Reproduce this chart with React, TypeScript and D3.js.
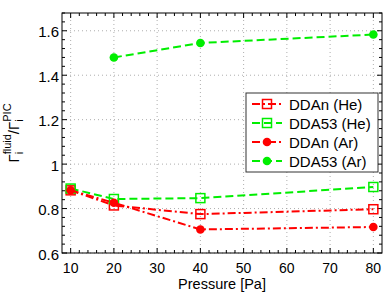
import React, { useEffect, useRef } from 'react';
import * as d3 from 'd3';

const pressures = [10, 20, 40, 80];
const ddanHe = [0.882, 0.814, 0.775, 0.797];
const dda53He = [0.89, 0.843, 0.847, 0.897];
const ddanAr = [0.882, 0.826, 0.706, 0.717];
const dda53ArP = [20, 40, 80];
const dda53Ar = [1.48, 1.545, 1.583];

const xTicks = [10, 20, 30, 40, 50, 60, 70, 80];
const yTicks = [0.6, 0.8, 1, 1.2, 1.4, 1.6];
const legendLabels = ['DDAn (He)', 'DDA53 (He)', 'DDAn (Ar)', 'DDA53 (Ar)'];

const FONT = '"Liberation Sans", Arial, Helvetica, sans-serif';

const App = () => {
  const svgRef = useRef<SVGSVGElement>(null);

  useEffect(() => {
    const svgWidth = 390;
    const svgHeight = 294;
    const m = { top: 13, right: 8, bottom: 41, left: 62 };

    const svg = d3.select(svgRef.current)
      .attr('width', svgWidth)
      .attr('height', svgHeight)
      .style('font-family', FONT);
    svg.selectAll('*').remove();

    const x = d3.scaleLinear().domain([8, 82]).range([m.left, svgWidth - m.right]);
    const y = d3.scaleLinear().domain([0.6, 1.68]).range([svgHeight - m.bottom, m.top]);
    const [x0, x1] = x.range();
    const [y0, y1] = y.range();

    svg.append('rect').attr('width', svgWidth).attr('height', svgHeight).attr('fill', '#fff');

    // grid
    const grid = svg.append('g').attr('stroke', '#999').attr('stroke-width', 0.8)
      .attr('stroke-dasharray', '1,3');
    xTicks.forEach(t => grid.append('line').attr('x1', x(t)).attr('x2', x(t)).attr('y1', y0).attr('y2', y1));
    yTicks.forEach(t => grid.append('line').attr('x1', x0).attr('x2', x1).attr('y1', y(t)).attr('y2', y(t)));

    // ticks (inward, all sides)
    const ticks = svg.append('g').attr('stroke', '#000').attr('stroke-width', 1);
    d3.range(10, 81, 2).forEach(t => {
      const len = t % 10 === 0 ? 5 : 3;
      ticks.append('line').attr('x1', x(t)).attr('x2', x(t)).attr('y1', y0).attr('y2', y0 - len);
      ticks.append('line').attr('x1', x(t)).attr('x2', x(t)).attr('y1', y1).attr('y2', y1 + len);
    });
    d3.range(0, 28).forEach(i => {
      const t = 0.6 + i * 0.04;
      const len = i % 5 === 0 ? 5 : 3;
      ticks.append('line').attr('x1', x0).attr('x2', x0 + len).attr('y1', y(t)).attr('y2', y(t));
      ticks.append('line').attr('x1', x1).attr('x2', x1 - len).attr('y1', y(t)).attr('y2', y(t));
    });

    // tick labels
    svg.append('g').selectAll('text').data(xTicks).join('text')
      .attr('x', d => x(d)).attr('y', y0 + 19.5).attr('text-anchor', 'middle')
      .attr('font-size', 14).text(d => d);
    svg.append('g').selectAll('text').data(yTicks).join('text')
      .attr('x', x0 - 3).attr('y', d => y(d) + 6.5).attr('text-anchor', 'end')
      .attr('font-size', 15).text(d => d3.format('~g')(d));

    // series
    const series = [
      { xs: pressures, ys: ddanHe, color: '#ff0000', dash: '8,3,2,3', marker: 'square' },
      { xs: pressures, ys: dda53He, color: '#00ee00', dash: '8,4', marker: 'square' },
      { xs: pressures, ys: ddanAr, color: '#ff0000', dash: '8,3,2,3', marker: 'circle' },
      { xs: dda53ArP, ys: dda53Ar, color: '#00ee00', dash: '8,4', marker: 'circle' },
    ];

    const drawMarker = (g: any, cx: number, cy: number, s: any) => {
      if (s.marker === 'square') {
        g.append('rect').attr('x', cx - 4.5).attr('y', cy - 4.5).attr('width', 9).attr('height', 9)
          .attr('fill', 'none').attr('stroke', s.color).attr('stroke-width', 1.5);
      } else {
        g.append('circle').attr('cx', cx).attr('cy', cy).attr('r', 4.3).attr('fill', s.color);
      }
    };

    const line = d3.line<[number, number]>().x(d => x(d[0])).y(d => y(d[1]));
    series.forEach(s => {
      const pts = s.xs.map((p, i) => [p, s.ys[i]] as [number, number]);
      svg.append('path').datum(pts).attr('d', line).attr('fill', 'none')
        .attr('stroke', s.color).attr('stroke-width', 2).attr('stroke-dasharray', s.dash);
      const g = svg.append('g');
      pts.forEach(p => drawMarker(g, x(p[0]), y(p[1]), s));
    });

    // frame
    svg.append('rect').attr('x', x0).attr('y', y1).attr('width', x1 - x0).attr('height', y0 - y1)
      .attr('fill', 'none').attr('stroke', '#000').attr('stroke-width', 1);

    // legend
    const lg = svg.append('g').attr('transform', 'translate(246,93)');
    lg.append('rect').attr('width', 132).attr('height', 79).attr('fill', '#fff')
      .attr('stroke', '#333').attr('stroke-width', 1);
    series.forEach((s, i) => {
      const cy = 11 + i * 19;
      lg.append('line').attr('x1', 6).attr('x2', 36).attr('y1', cy).attr('y2', cy)
        .attr('stroke', s.color).attr('stroke-width', 2).attr('stroke-dasharray', s.dash);
      drawMarker(lg, 21, cy, s);
      lg.append('text').attr('x', 43).attr('y', cy + 5.5).attr('font-size', 15).text(legendLabels[i]);
    });

    // x label
    svg.append('text').attr('x', (x0 + x1) / 2).attr('y', 289).attr('text-anchor', 'middle')
      .attr('font-size', 14.5).text('Pressure [Pa]');

    // y label: Γ_i^fluid / Γ_i^PIC
    const yl = svg.append('g').attr('transform', `translate(18.5,${(y0 + y1) / 2}) rotate(-90)`);
    const parts: { t: string; size: number; dy: number; adv: boolean }[] = [
      { t: 'Γ', size: 15, dy: 0, adv: true },
      { t: 'i', size: 11, dy: 4, adv: false },
      { t: 'fluid', size: 11, dy: -8, adv: true },
      { t: '/', size: 15, dy: 0, adv: true },
      { t: 'Γ', size: 15, dy: 0, adv: true },
      { t: 'i', size: 11, dy: 4, adv: false },
      { t: 'PIC', size: 11, dy: -8, adv: true },
    ];
    let cx = 0;
    const nodes: any[] = [];
    parts.forEach(p => {
      const tx = yl.append('text').attr('x', cx).attr('y', p.dy).attr('font-size', p.size).text(p.t);
      nodes.push(tx);
      const w = (tx.node() as SVGTextElement).getComputedTextLength();
      if (p.adv) cx += w;
    });
    nodes.forEach(n => n.attr('x', +n.attr('x') - cx / 2));
  }, []);

  return <svg ref={svgRef} style={{ position: 'absolute', left: 0, top: 0 }}></svg>;
};

export default App;
